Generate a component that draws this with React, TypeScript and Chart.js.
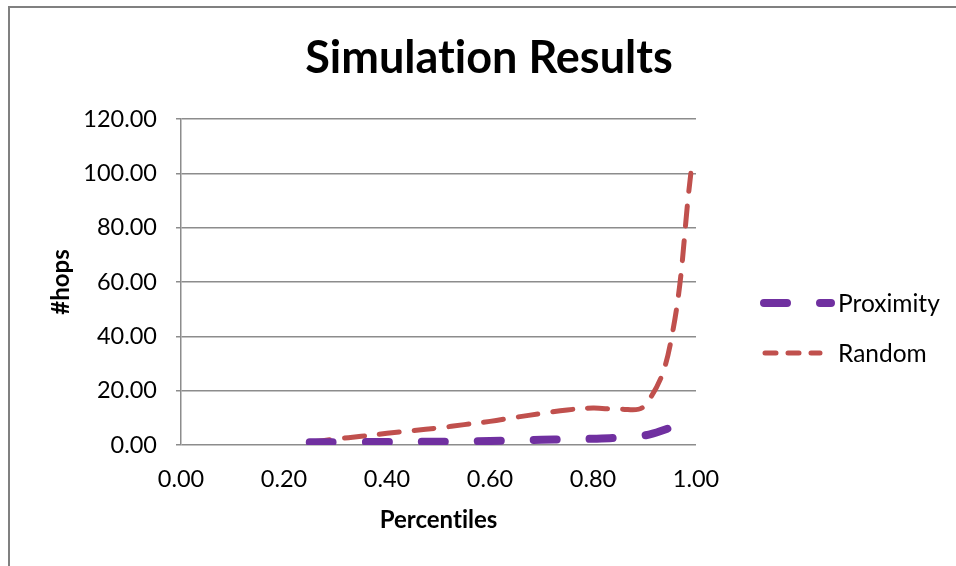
import React, { useEffect, useRef } from "react";
import { Chart, registerables } from "chart.js";

Chart.register(...registerables);

const chartTitle = "Simulation Results";
const xAxisTitle = "Percentiles";
const yAxisTitle = "#hops";
const seriesNames = ["Proximity", "Random"];

const proximityX = [0.25, 0.3, 0.35, 0.4, 0.45, 0.5, 0.55, 0.6, 0.65, 0.7, 0.75, 0.8, 0.85, 0.9, 0.95];
const proximityY = [1.0, 1.05, 1.1, 1.1, 1.15, 1.2, 1.3, 1.5, 1.7, 1.9, 2.1, 2.3, 2.7, 3.5, 6.3];

const randomX = [0.25, 0.3, 0.35, 0.4, 0.45, 0.5, 0.55, 0.6, 0.65, 0.7, 0.75, 0.8, 0.85, 0.9, 0.95, 0.99];
const randomY = [1.0, 2.2, 3.2, 4.3, 5.3, 6.3, 7.5, 8.7, 10.2, 11.6, 12.9, 13.6, 13.2, 14.5, 37, 100];

const xTicks = [0, 0.2, 0.4, 0.6, 0.8, 1.0];
const yTicks = [0, 20, 40, 60, 80, 100, 120];

const PURPLE = "#7030A0";
const RED = "#C0504D";
const GRID = "#8c8c8c";
const FONT = "Lato";

const extrasPlugin = {
  id: "extras",
  beforeDraw(chart: any) {
    try {
      (chart.ctx as any).textRendering = "optimizeSpeed";
    } catch (e) {}
  },
  afterDraw(chart: any) {
    const ctx = chart.ctx;
    ctx.save();
    // outer frame
    ctx.fillStyle = "#808080";
    ctx.fillRect(8, 6, 2, 560);
    ctx.fillRect(8, 6, 948, 2);
    // legend
    const items = [
      { name: seriesNames[0], color: PURPLE, width: 8, dash: [23, 33], y: 303, x0: 764, x1: 831 },
      { name: seriesNames[1], color: RED, width: 5, dash: [11, 12], y: 353, x0: 765, x1: 820 },
    ];
    items.forEach((it) => {
      ctx.strokeStyle = it.color;
      ctx.lineWidth = it.width;
      ctx.lineCap = "round";
      ctx.setLineDash(it.dash);
      ctx.beginPath();
      ctx.moveTo(it.x0, it.y);
      ctx.lineTo(it.x1, it.y);
      ctx.stroke();
      ctx.setLineDash([]);
      ctx.fillStyle = "#000";
      ctx.font = `24.5px ${FONT}`;
      ctx.textBaseline = "middle";
      ctx.textAlign = "left";
      ctx.fillText(it.name, 838, it.y + 1);
    });
    ctx.restore();
  },
};

export default function App() {
  const ref = useRef<HTMLCanvasElement>(null);
  useEffect(() => {
    if (!ref.current) return;
    const chart = new Chart(ref.current, {
      type: "line",
      data: {
        datasets: [
          {
            label: seriesNames[0],
            data: proximityX.map((x, i) => ({ x, y: proximityY[i] })),
            borderColor: PURPLE,
            backgroundColor: PURPLE,
            borderWidth: 8,
            borderDash: [23, 33],
            borderCapStyle: "round",
            pointRadius: 0,
            tension: 0.4,
            fill: false,
          },
          {
            label: seriesNames[1],
            data: randomX.map((x, i) => ({ x, y: randomY[i] })),
            borderColor: RED,
            backgroundColor: RED,
            borderWidth: 5,
            borderDash: [20, 15],
            borderCapStyle: "round",
            pointRadius: 0,
            tension: 0.4,
            fill: false,
          },
        ],
      },
      options: {
        responsive: false,
        animation: false,
        layout: { padding: { left: 22, right: 0, top: 0, bottom: 0 } },
        plugins: {
          legend: { display: false },
          tooltip: { enabled: false },
          title: {
            display: true,
            text: chartTitle,
            color: "#000",
            font: { family: FONT, size: 45, weight: "bold", lineHeight: 1.2 },
            padding: { top: 31, bottom: 34 },
          },
        },
        scales: {
          x: {
            type: "linear",
            min: 0,
            max: 1,
            afterBuildTicks: (s: any) => {
              s.ticks = xTicks.map((v) => ({ value: v }));
            },
            afterFit: (s: any) => {
              s.height = 121;
            },
            ticks: {
              color: "#000",
              font: { family: FONT, size: 23.5 },
              padding: 20,
              callback: (v: any) => Number(v).toFixed(2),
            },
            grid: { display: false, drawTicks: false },
            border: { display: false },
            title: {
              display: true,
              text: xAxisTitle,
              color: "#000",
              font: { family: FONT, size: 24, weight: "bold", lineHeight: 1.2 },
              padding: { top: 0, bottom: 31 },
            },
          },
          y: {
            type: "linear",
            min: 0,
            max: 120,
            afterBuildTicks: (s: any) => {
              s.ticks = yTicks.map((v) => ({ value: v }));
            },
            afterFit: (s: any) => {
              s.width = 159;
            },
            ticks: {
              color: "#000",
              font: { family: FONT, size: 23.5 },
              padding: 19,
              callback: (v: any) => Number(v).toFixed(2),
            },
            grid: { color: GRID, lineWidth: 1.5, tickLength: 5, drawTicks: true },
            border: { display: true, color: GRID, width: 1.5 },
            title: {
              display: true,
              text: yAxisTitle,
              color: "#000",
              font: { family: FONT, size: 24, weight: "bold", lineHeight: 1.2 },
              padding: { top: 25, bottom: 0 },
            },
          },
          spacer: {
            type: "linear",
            position: "right",
            min: 0,
            max: 1,
            display: true,
            afterFit: (s: any) => {
              s.width = 260;
            },
            ticks: { display: false },
            grid: { display: false, drawTicks: false },
            border: { display: false },
          },
        },
      },
      plugins: [extrasPlugin],
    } as any);
    return () => chart.destroy();
  }, []);
  return (
    <div style={{ position: "fixed", left: 0, top: 0, width: 956, height: 566, background: "#fff" }}>
      <canvas ref={ref} width={956} height={566} style={{ display: "block" }} />
    </div>
  );
}
